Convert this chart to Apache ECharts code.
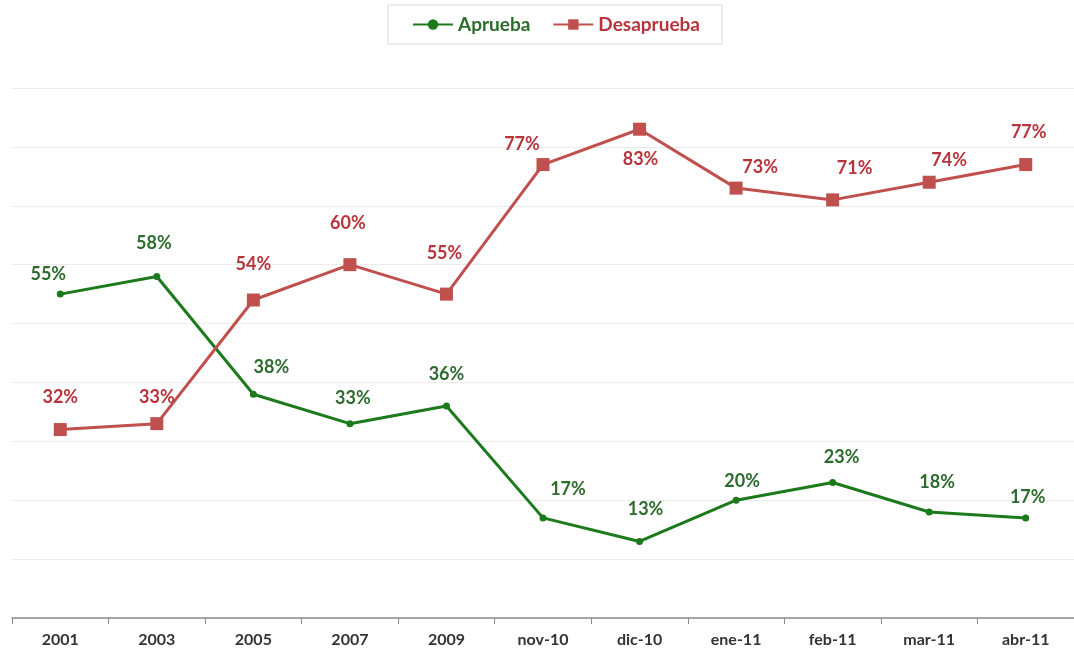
<!DOCTYPE html>
<html>
<head>
<meta charset="utf-8">
<title>Aprueba / Desaprueba</title>
<script src="https://cdn.jsdelivr.net/npm/echarts@6/dist/echarts.min.js"></script>
<style>
  html, body { margin: 0; padding: 0; background: #fff; }
  #chart { width: 1074px; height: 655px; }
</style>
</head>
<body>
<div id="chart"></div>
<script>
// categorias del eje x
const periodos = ['2001', '2003', '2005', '2007', '2009', 'nov-10', 'dic-10', 'ene-11', 'feb-11', 'mar-11', 'abr-11'];
// valores (%)
const aprueba = [55, 58, 38, 33, 36, 17, 13, 20, 23, 18, 17];
const desaprueba = [32, 33, 54, 60, 55, 77, 83, 73, 71, 74, 77];

// desplazamiento de etiquetas (solo estilo)
const offAprueba = [[-12, -2], [-3, -16], [18, -10], [3, -8], [0, -14], [25, -11], [6, -15], [6, -2], [9, -8], [8, -12], [2, -3]];
const offDesaprueba = [[0, -12], [0, -6], [0, -15], [-2, -21], [-2, -20], [-21, 0], [1, 50], [24, 0], [22, -11], [20, -2], [3, -12]];

const green = '#1c7a1c';
const red = '#c0504d';
const font = 'Lato, "Open Sans", sans-serif';

function buildData(vals, offs) {
  return vals.map((v, i) => ({
    value: v,
    label: { offset: offs[i] }
  }));
}

const chart = echarts.init(document.getElementById('chart'));
chart.setOption({
  animation: false,
  backgroundColor: '#fff',
  legend: {
    top: 5,
    left: 388,
    padding: [10, 22, 10, 24],
    borderColor: '#d9d9d9',
    borderWidth: 1,
    itemGap: 22,
    itemWidth: 40,
    itemHeight: 13,
    textStyle: { fontFamily: font, fontSize: 19, fontWeight: 'bold' },
    data: [
      { name: 'Aprueba', textStyle: { color: '#2a6e2a' } },
      { name: 'Desaprueba', textStyle: { color: '#b8343c' } }
    ]
  },
  grid: { left: 12, width: 1076, top: 88, bottom: 37 },
  xAxis: {
    type: 'category',
    data: periodos,
    boundaryGap: true,
    axisLine: { lineStyle: { color: '#8c8c8c', width: 1.5 } },
    axisTick: { show: true, length: 6, lineStyle: { color: '#8c8c8c' } },
    axisLabel: { fontFamily: font, fontSize: 16, fontWeight: 'bold', color: '#333', margin: 14 }
  },
  yAxis: {
    type: 'value',
    min: 0,
    max: 90,
    interval: 10,
    axisLine: { show: false },
    axisTick: { show: false },
    axisLabel: { show: false },
    splitLine: { lineStyle: { color: '#ececec', width: 1 } }
  },
  series: [
    {
      name: 'Aprueba',
      type: 'line',
      data: buildData(aprueba, offAprueba),
      symbol: 'circle',
      symbolSize: 7,
      lineStyle: { color: green, width: 3 },
      itemStyle: { color: green },
      label: {
        show: true,
        position: 'top',
        formatter: '{c}%',
        fontFamily: font,
        fontSize: 18,
        fontWeight: 'bold',
        color: '#2e6b2e'
      }
    },
    {
      name: 'Desaprueba',
      type: 'line',
      data: buildData(desaprueba, offDesaprueba),
      symbol: 'rect',
      symbolSize: 13,
      lineStyle: { color: red, width: 3 },
      itemStyle: { color: red },
      label: {
        show: true,
        position: 'top',
        formatter: '{c}%',
        fontFamily: font,
        fontSize: 18,
        fontWeight: 'bold',
        color: '#b8343c'
      }
    }
  ]
});
</script>
</body>
</html>
